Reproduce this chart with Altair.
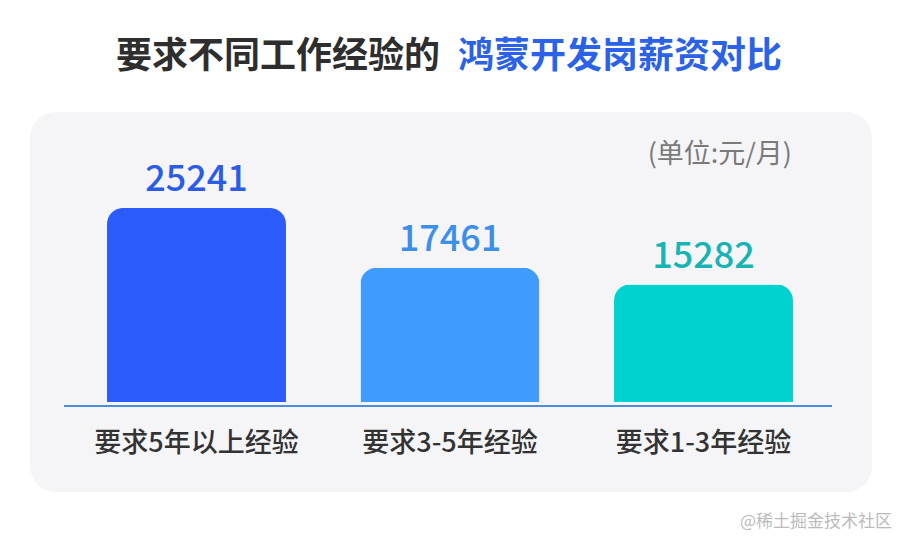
import altair as alt
import pandas as pd

categories = ["要求5年以上经验", "要求3-5年经验", "要求1-3年经验"]
salaries = [25241, 17461, 15282]
bar_colors = ["#2b5cfb", "#409bfe", "#00d2cf"]
label_colors = ["#2b5ce6", "#3b8fe8", "#18b4b4"]

title_dark = "要求不同工作经验的"
title_blue = "鸿蒙开发岗薪资对比"
unit_text = "(单位:元/月)"
watermark = "@稀土掘金技术社区"

FONT = "Noto Sans CJK SC"

df = pd.DataFrame({"cat": categories, "val": salaries})
one = pd.DataFrame({"a": [0]})

xscale = alt.Scale(domain=categories, range=[61.75, 822.25], paddingInner=0.294, paddingOuter=0.147)
yscale = alt.Scale(domain=[0, 30000], range=[394, 163.4])

panel = alt.Chart(one).mark_rect(cornerRadius=26, color="#f5f5f7").encode(
    x=alt.value(22), x2=alt.value(864), y=alt.value(104), y2=alt.value(484)
)

bars = alt.Chart(df).mark_bar(cornerRadiusTopLeft=16, cornerRadiusTopRight=16).encode(
    x=alt.X("cat:N", scale=xscale, axis=None, sort=categories),
    y=alt.Y("val:Q", scale=yscale, axis=None),
    color=alt.Color("cat:N", scale=alt.Scale(domain=categories, range=bar_colors), legend=None),
)

vals = alt.Chart(df).mark_text(font=FONT, fontSize=36, fontWeight=500, baseline="alphabetic", dy=-17).encode(
    x=alt.X("cat:N", scale=xscale, axis=None, sort=categories, bandPosition=0.5),
    y=alt.Y("val:Q", scale=yscale, axis=None),
    text=alt.Text("val:Q", format="d"),
    color=alt.Color("cat:N", scale=alt.Scale(domain=categories, range=label_colors), legend=None),
)

cats = alt.Chart(df).mark_text(font=FONT, fontSize=27, fontWeight=500, color="#333333", baseline="middle").encode(
    x=alt.X("cat:N", scale=xscale, axis=None, sort=categories, bandPosition=0.5),
    y=alt.value(436),
    text="cat:N",
)

baseline_rule = alt.Chart(one).mark_rule(stroke="#4a8fdc", strokeWidth=2).encode(
    x=alt.value(56), x2=alt.value(824), y=alt.value(398)
)

t1 = alt.Chart(one).mark_text(font=FONT, fontSize=36, fontWeight="bold", color="#2e2e2e",
                              align="right", baseline="middle", text=title_dark).encode(
    x=alt.value(432), y=alt.value(49)
)
t2 = alt.Chart(one).mark_text(font=FONT, fontSize=36, fontWeight="bold", color="#2b62e6",
                              align="left", baseline="middle", text=title_blue).encode(
    x=alt.value(450), y=alt.value(49)
)
unit = alt.Chart(one).mark_text(font=FONT, fontSize=27, color="#7a7a7a",
                                align="right", baseline="middle", text=unit_text).encode(
    x=alt.value(784), y=alt.value(147)
)
wm = alt.Chart(one).mark_text(font=FONT, fontSize=17, color="#bbbbbb",
                              align="right", baseline="middle", text=watermark).encode(
    x=alt.value(884), y=alt.value(514)
)

chart = alt.layer(panel, baseline_rule, bars, vals, cats, t1, t2, unit, wm).resolve_scale(
    color="independent"
).properties(
    width=884, height=524, padding=0, autosize=alt.AutoSizeParams(type="none"), background="white"
).configure_view(stroke=None)

chart.save("out.html", embed_options={"renderer": "svg", "actions": False})
